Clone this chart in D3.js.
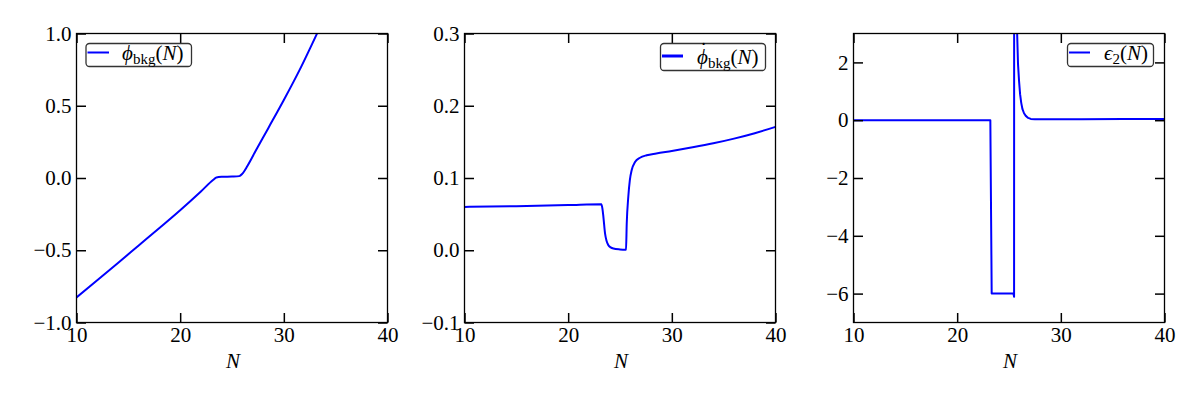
<!DOCTYPE html>
<html><head><meta charset="utf-8">
<script src="https://cdn.jsdelivr.net/npm/d3@7"></script>
<style>
body{margin:0;background:#fff}
svg text{font-family:"Liberation Serif","DejaVu Serif",serif;fill:#000}
</style>
</head><body>
<svg id="c" width="1200" height="400"></svg>
<script>
// ---------- data ----------
const xTicks = [10, 20, 30, 40];

const phiN = [10, 12, 14, 16, 18, 20, 22, 23.2, 23.5, 24, 25, 25.7, 26.0, 26.5, 27.3, 28.5, 30, 31.5, 33.2];
const phiV = [-0.827, -0.708, -0.588, -0.467, -0.346, -0.223, -0.093, -0.012, 0.004, 0.008, 0.010, 0.013, 0.030, 0.085, 0.19, 0.345, 0.54, 0.745, 1.0];
const phiTicks = [-1.0, -0.5, 0.0, 0.5, 1.0];

const dphiN = [10, 15, 20, 23.2, 23.3, 23.4, 23.56, 23.7, 23.88, 24.1, 24.36, 25, 25.5, 25.58, 25.65, 25.8, 25.95, 26.13, 26.45, 26.93, 27.57, 28.5, 30, 32, 34, 36, 38, 40];
const dphiV = [0.0600, 0.0610, 0.0625, 0.0637, 0.058, 0.046, 0.023, 0.013, 0.007, 0.004, 0.0024, 0.0012, 0.0008, 0.001, 0.037, 0.074, 0.097, 0.111, 0.122, 0.128, 0.1315, 0.134, 0.1375, 0.1425, 0.148, 0.1545, 0.162, 0.1708];
const dphiTicks = [-0.1, 0.0, 0.1, 0.2, 0.3];

const epsN = [10, 23.2, 23.33, 25.43, 25.49, 25.52, 25.74, 25.77, 25.87, 25.97, 26.07, 26.18, 26.3, 26.45, 26.62, 26.85, 27.1, 27.5, 28, 32, 36, 40];
const epsV = [0, 0, -6.0, -6.0, -6.11, 40, 40, 3.2, 1.94, 1.35, 0.9, 0.6, 0.38, 0.24, 0.15, 0.08, 0.045, 0.03, 0.03, 0.035, 0.04, 0.045];
const epsTicks = [-6, -4, -2, 0, 2];

// ---------- layout ----------
const svg = d3.select("#c");
const W = 311, H = 289, TOP = 33.5;
const FS = 21;
const FONT = '"Liberation Serif","DejaVu Serif",serif';

const panels = [
  {left: 76.5, N: phiN, V: phiV, dom: [-1, 1], ticks: phiTicks, fmt: d3.format(".1f"), curve: d3.curveMonotoneX,
   legend: {x0: 86, x1: 191.5, line: [87.5, 109], textX: 122, sym: "ϕ", sub: "bkg", dot: false}},
  {left: 464.5, N: dphiN, V: dphiV, dom: [-0.1, 0.3], ticks: dphiTicks, fmt: d3.format(".1f"), curve: d3.curveMonotoneX,
   legend: {x0: 660.5, x1: 765.5, line: [662, 683], textX: 697, sym: "ϕ", sub: "bkg", dot: true}},
  {left: 853.5, N: epsN, V: epsV, dom: [-7, 3], ticks: epsTicks, fmt: d3.format("d"), curve: d3.curveLinear,
   legend: {x0: 1067.5, x1: 1153.5, line: [1069, 1090], textX: 1104, sym: "ϵ", sub: "2", dot: false}}
];

panels.forEach((p, i) => {
  const g = svg.append("g").attr("transform", `translate(${p.left},${TOP})`);
  const x = d3.scaleLinear().domain([10, 40]).range([0, W]);
  const y = d3.scaleLinear().domain(p.dom).range([H, 0]);

  g.append("clipPath").attr("id", "clip" + i)
    .append("rect").attr("width", W).attr("height", H);

  const data = p.N.map((n, k) => [n, p.V[k]]);
  g.append("path").datum(data)
    .attr("clip-path", `url(#clip${i})`)
    .attr("fill", "none").attr("stroke", "#0000ff").attr("stroke-width", 2)
    .attr("stroke-linejoin", "round")
    .attr("d", d3.line().x(d => x(d[0])).y(d => y(d[1])).curve(p.curve));

  const style = sel => {
    sel.attr("font-family", FONT).attr("font-size", FS);
    sel.select(".domain").remove();
    sel.selectAll(".tick line").attr("stroke", "#000").attr("stroke-width", 1.5);
    sel.selectAll(".tick text").style("font-size", FS + "px").style("font-family", FONT).attr("fill", "#000");
  };
  g.append("g").attr("transform", `translate(0,${H})`)
    .call(d3.axisBottom(x).tickValues(xTicks).tickSize(-9.5).tickPadding(5).tickFormat(d3.format("d"))).call(style);
  g.append("g")
    .call(d3.axisTop(x).tickValues(xTicks).tickSize(-9.5).tickFormat("")).call(style);
  g.append("g")
    .call(d3.axisLeft(y).tickValues(p.ticks).tickSize(-9.5).tickPadding(5).tickFormat(p.fmt)).call(style);
  g.append("g").attr("transform", `translate(${W},0)`)
    .call(d3.axisRight(y).tickValues(p.ticks).tickSize(-9.5).tickFormat("")).call(style);

  g.append("rect").attr("width", W).attr("height", H)
    .attr("fill", "none").attr("stroke", "#000").attr("stroke-width", 1.3);

  // x label
  g.append("text").attr("x", W / 2 + 1).attr("y", 368 - TOP)
    .attr("text-anchor", "middle").style("font-size", FS + "px").style("font-family", FONT)
    .style("font-style", "italic").text("N");

  // legend
  const L = p.legend;
  const lg = svg.append("g");
  lg.append("rect").attr("x", L.x0).attr("y", 43.5).attr("width", L.x1 - L.x0).attr("height", L.dot ? 27 : 23)
    .attr("rx", 3.5).attr("fill", "#fff").attr("stroke", "#333").attr("stroke-width", 1.3);
  const ly = L.dot ? 56 : 52.5;
  lg.append("line").attr("x1", L.line[0]).attr("x2", L.line[1]).attr("y1", ly).attr("y2", ly)
    .attr("stroke", "#0000ff").attr("stroke-width", L.dot ? 3 : 2);
  const base = L.dot ? 64 : 60;
  const t = lg.append("text").attr("x", L.textX).attr("y", base)
    .style("font-size", FS + "px").style("font-family", FONT);
  t.append("tspan").style("font-style", "italic").text(L.sym);
  t.append("tspan").style("font-size", "15px").attr("dy", 4).text(L.sub);
  t.append("tspan").attr("dy", -4).text("(");
  t.append("tspan").style("font-style", "italic").text("N");
  t.append("tspan").text(")");
  if (L.dot) {
    lg.append("text").attr("x", L.textX + 6.5).attr("y", base - 7)
      .attr("text-anchor", "middle").style("font-size", "20px").style("font-family", FONT).text("˙");
  }
});
</script>
</body></html>
